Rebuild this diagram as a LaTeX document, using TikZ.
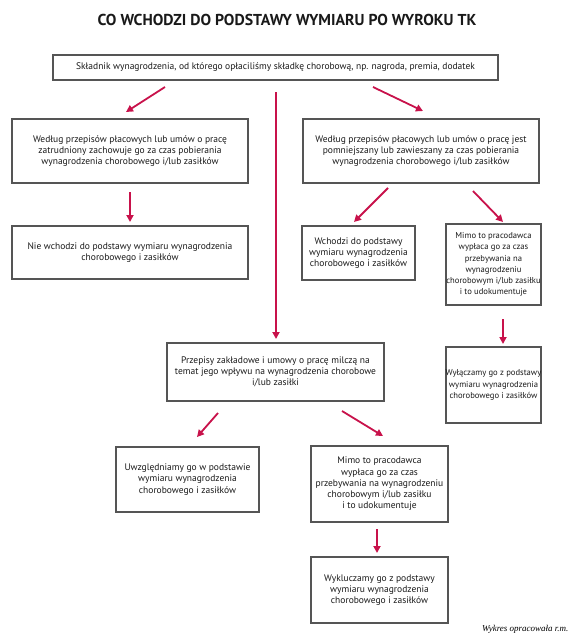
\documentclass[tikz,border=0pt]{standalone}
\usepackage{fontspec}
\setmainfont{PT Sans}
\newfontfamily\footfont{Liberation Serif}
\usetikzlibrary{arrows.meta}
\definecolor{boxgray}{HTML}{555555}
\definecolor{arrred}{HTML}{C8124B}
\tikzset{
  box/.style={draw=boxgray, line width=1.8pt, align=center, inner sep=0pt,
    font=\fontsize{9.5}{11.2}\selectfont, text=black!90},
  narrowbox/.style={box, font=\fontsize{8.6}{11.2}\selectfont},
  arr/.style={draw=arrred, line width=1.8pt, -{Triangle[length=7pt,width=7pt]}},
}
\begin{document}
\begin{tikzpicture}[x=1pt,y=-1pt]
\useasboundingbox (0,0) rectangle (574,640);
\node[font=\fontsize{15.8}{17}\selectfont\bfseries, text=black!90] (title) at (287,20) {CO WCHODZI DO PODSTAWY WYMIARU PO WYROKU TK};

\node[box, minimum width=445pt, minimum height=25pt] (top) at (275.5,67.5) {Składnik wynagrodzenia, od którego opłaciliśmy składkę chorobową, np. nagroda, premia, dodatek};

\node[box, minimum width=236pt, minimum height=64pt] (L1) at (130,151) {Według przepisów płacowych lub umów o pracę\\zatrudniony zachowuje go za czas pobierania\\wynagrodzenia chorobowego i/lub zasiłków};
\node[box, minimum width=236pt, minimum height=53pt] (L2) at (130,252.5) {Nie wchodzi do podstawy wymiaru wynagrodzenia\\chorobowego i zasiłków};

\node[box, minimum width=236pt, minimum height=64pt] (R1) at (421,151) {Według przepisów płacowych lub umów o pracę jest\\pomniejszany lub zawieszany za czas pobierania\\wynagrodzenia chorobowego i/lub zasiłków};
\node[box, minimum width=113pt, minimum height=54pt] (W) at (358.5,253) {Wchodzi do podstawy\\wymiaru wynagrodzenia\\chorobowego i zasiłków};
\node[narrowbox, minimum width=95pt, minimum height=81pt] (M1) at (493.5,264.5) {Mimo to pracodawca\\wypłaca go za czas\\przebywania na\\wynagrodzeniu\\chorobowym i/lub zasiłku\\i to udokumentuje};
\node[narrowbox, minimum width=95pt, minimum height=76pt] (X1) at (493.5,385) {Wyłączamy go z podstawy\\wymiaru wynagrodzenia\\chorobowego i zasiłków};

\node[box, minimum width=217pt, minimum height=58pt] (P) at (275.5,372) {Przepisy zakładowe i umowy o pracę milczą na\\temat jego wpływu na wynagrodzenia chorobowe\\i/lub zasiłki};
\node[box, minimum width=143pt, minimum height=65pt] (U) at (187.5,479.5) {Uwzględniamy go w podstawie\\wymiaru wynagrodzenia\\chorobowego i zasiłków};
\node[box, minimum width=137pt, minimum height=76pt] (M2) at (379.5,484) {Mimo to pracodawca\\wypłaca go za czas\\przebywania na wynagrodzeniu\\chorobowym i/lub zasiłku\\i to udokumentuje};
\node[box, minimum width=137pt, minimum height=66pt] (X2) at (379.5,590) {Wykluczamy go z podstawy\\wymiaru wynagrodzenia\\chorobowego i zasiłków};

\node[font=\footfont\itshape\fontsize{9}{10}\selectfont, anchor=east] (foot) at (572,629) {Wykres opracowała r.m.};

% arrow end points
\coordinate (a1s) at (165,87);  \coordinate (a1e) at (126,112);
\coordinate (a2s) at (276,92);  \coordinate (a2e) at (276,339);
\coordinate (a3s) at (373,87);  \coordinate (a3e) at (423,111);
\coordinate (a4s) at (130,192); \coordinate (a4e) at (130,222);
\coordinate (a5s) at (388,188); \coordinate (a5e) at (354,222);
\coordinate (a6s) at (473,191); \coordinate (a6e) at (503,222);
\coordinate (a7s) at (503,319); \coordinate (a7e) at (503,344);
\coordinate (a8s) at (218,413); \coordinate (a8e) at (197,437);
\coordinate (a9s) at (342,411); \coordinate (a9e) at (383,436);
\coordinate (a10s) at (377,529); \coordinate (a10e) at (377,553);

\draw[arr] (a1s) -- (a1e);
\draw[arr] (a2s) -- (a2e);
\draw[arr] (a3s) -- (a3e);
\draw[arr] (a4s) -- (a4e);
\draw[arr] (a5s) -- (a5e);
\draw[arr] (a6s) -- (a6e);
\draw[arr] (a7s) -- (a7e);
\draw[arr] (a8s) -- (a8e);
\draw[arr] (a9s) -- (a9e);
\draw[arr] (a10s) -- (a10e);
\end{tikzpicture}
\end{document}
